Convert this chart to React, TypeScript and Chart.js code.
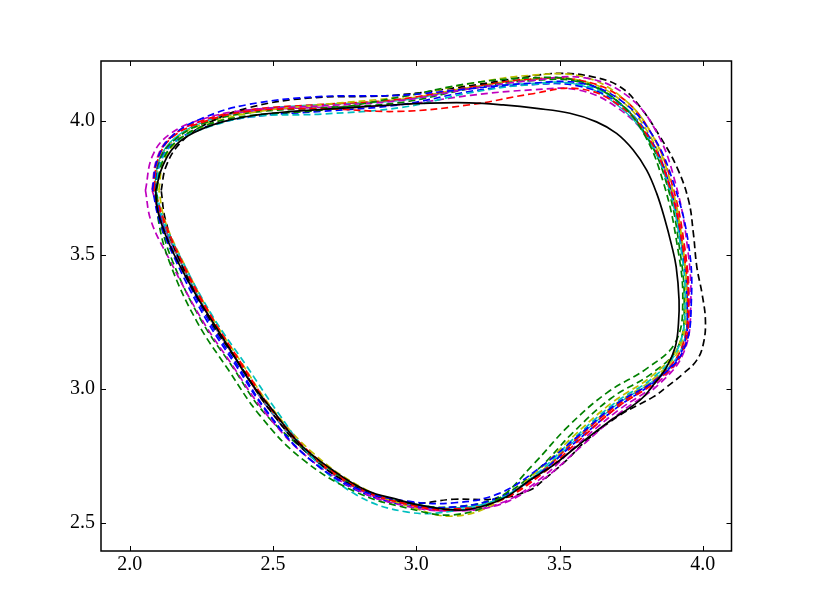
import React, { useEffect, useRef } from "react";
import { Chart, registerables } from "chart.js";

Chart.register(...registerables);

const X_TICKS = [2.0, 2.5, 3.0, 3.5, 4.0];
const Y_TICKS = [2.5, 3.0, 3.5, 4.0];
const X_LIMITS = [1.9, 4.1];
const Y_LIMITS = [2.395, 4.223];

const solidBlack = [
  [2.091, 3.741], [2.114, 3.828], [2.161, 3.909], [2.231, 3.959], [2.324, 3.996], [2.441, 4.021],
  [2.557, 4.034], [2.732, 4.046], [2.9, 4.058], [3.05, 4.066], [3.186, 4.067], [3.303, 4.059],
  [3.42, 4.046], [3.536, 4.028], [3.629, 3.996], [3.699, 3.953], [3.757, 3.891], [3.804, 3.816],
  [3.839, 3.729], [3.868, 3.63], [3.89, 3.54], [3.907, 3.455], [3.917, 3.331], [3.915, 3.244],
  [3.904, 3.157], [3.874, 3.082], [3.827, 3.014], [3.781, 2.958], [3.664, 2.871], [3.559, 2.784],
  [3.478, 2.715], [3.396, 2.659], [3.315, 2.597], [3.245, 2.566], [3.151, 2.547], [3.012, 2.566],
  [2.942, 2.585], [2.825, 2.622], [2.708, 2.697], [2.592, 2.796], [2.499, 2.92], [2.417, 3.032],
  [2.359, 3.132], [2.301, 3.231], [2.242, 3.331], [2.196, 3.418], [2.137, 3.543], [2.097, 3.667],
];

const blue1 = [
  [2.08, 3.745], [2.098, 3.86], [2.15, 3.945], [2.255, 4.01], [2.41, 4.06], [2.66, 4.09], [2.94, 4.095],
  [3.19, 4.12], [3.4, 4.14], [3.575, 4.14], [3.715, 4.075], [3.825, 3.945], [3.9, 3.76], [3.95, 3.54],
  [3.96, 3.33], [3.935, 3.15], [3.845, 3.04], [3.7, 2.945], [3.56, 2.82], [3.43, 2.705], [3.29, 2.61],
  [3.134, 2.575], [2.977, 2.58], [2.8, 2.625], [2.62, 2.745], [2.478, 2.915], [2.372, 3.085],
  [2.265, 3.262], [2.16, 3.48], [2.103, 3.63],
];
const blue2 = [
  [2.09, 3.74], [2.108, 3.85], [2.162, 3.925], [2.268, 3.978], [2.425, 4.015], [2.668, 4.035], [2.945, 4.06],
  [3.19, 4.11], [3.4, 4.135], [3.565, 4.13], [3.7, 4.07], [3.81, 3.945], [3.885, 3.755], [3.925, 3.53],
  [3.945, 3.33], [3.93, 3.15], [3.84, 3.035], [3.7, 2.93], [3.56, 2.805], [3.436, 2.69], [3.3, 2.6],
  [3.14, 2.56], [2.975, 2.565], [2.795, 2.62], [2.615, 2.75], [2.48, 2.915], [2.378, 3.085],
  [2.272, 3.262], [2.168, 3.478], [2.11, 3.628],
];
const green1 = [
  [2.095, 3.745], [2.115, 3.85], [2.165, 3.925], [2.27, 3.985], [2.425, 4.02], [2.67, 4.04], [2.95, 4.09],
  [3.19, 4.14], [3.4, 4.16], [3.56, 4.15], [3.695, 4.08], [3.795, 3.95], [3.865, 3.76], [3.91, 3.54],
  [3.93, 3.33], [3.905, 3.175], [3.81, 3.08], [3.665, 2.985], [3.53, 2.86], [3.41, 2.72], [3.28, 2.585],
  [3.13, 2.53], [2.97, 2.555], [2.79, 2.615], [2.6, 2.74], [2.455, 2.9], [2.345, 3.07], [2.235, 3.25],
  [2.14, 3.47], [2.1, 3.63],
];
const green2 = [
  [2.088, 3.738], [2.105, 3.855], [2.158, 3.93], [2.262, 3.992], [2.42, 4.03], [2.664, 4.048], [2.944, 4.068],
  [3.19, 4.12], [3.4, 4.15], [3.568, 4.145], [3.705, 4.07], [3.808, 3.935], [3.878, 3.75], [3.918, 3.53],
  [3.935, 3.33], [3.915, 3.16], [3.825, 3.06], [3.68, 2.965], [3.545, 2.835], [3.425, 2.7], [3.295, 2.6],
  [3.14, 2.56], [2.98, 2.572], [2.808, 2.628], [2.632, 2.755], [2.47, 2.91], [2.36, 3.08], [2.25, 3.255],
  [2.15, 3.475], [2.105, 3.63],
];
const red1 = [
  [2.085, 3.75], [2.1, 3.86], [2.15, 3.94], [2.255, 3.995], [2.412, 4.035], [2.66, 4.045], [2.94, 4.035],
  [3.19, 4.06], [3.4, 4.1], [3.565, 4.12], [3.705, 4.06], [3.812, 3.935], [3.885, 3.75], [3.93, 3.53],
  [3.95, 3.32], [3.93, 3.14], [3.84, 3.03], [3.7, 2.93], [3.56, 2.8], [3.436, 2.68], [3.295, 2.585],
  [3.136, 2.548], [2.975, 2.568], [2.805, 2.63], [2.632, 2.76], [2.495, 2.925], [2.39, 3.095],
  [2.285, 3.27], [2.178, 3.485], [2.118, 3.635],
];
const red2 = [
  [2.082, 3.742], [2.098, 3.858], [2.148, 3.942], [2.252, 4.0], [2.41, 4.04], [2.655, 4.06], [2.938, 4.08],
  [3.185, 4.125], [3.395, 4.155], [3.575, 4.15], [3.718, 4.085], [3.822, 3.95], [3.892, 3.765], [3.935, 3.54],
  [3.948, 3.335], [3.925, 3.15], [3.835, 3.035], [3.692, 2.932], [3.552, 2.805], [3.428, 2.68], [3.288, 2.582],
  [3.13, 2.552], [2.972, 2.57], [2.8, 2.628], [2.628, 2.755], [2.492, 2.925], [2.388, 3.092],
  [2.282, 3.268], [2.176, 3.482], [2.116, 3.632],
];
const cyan1 = [
  [2.092, 3.74], [2.11, 3.85], [2.165, 3.925], [2.27, 3.975], [2.425, 4.015], [2.67, 4.025], [2.95, 4.05],
  [3.19, 4.105], [3.4, 4.135], [3.57, 4.135], [3.705, 4.07], [3.808, 3.94], [3.88, 3.755], [3.922, 3.535],
  [3.938, 3.33], [3.915, 3.155], [3.83, 3.045], [3.69, 2.945], [3.55, 2.815], [3.428, 2.69], [3.288, 2.588],
  [3.13, 2.545], [2.97, 2.54], [2.79, 2.605], [2.64, 2.74], [2.515, 2.915], [2.405, 3.09], [2.29, 3.27],
  [2.18, 3.485], [2.118, 3.632],
];
const cyan2 = [
  [2.086, 3.745], [2.104, 3.858], [2.156, 3.935], [2.258, 3.995], [2.415, 4.04], [2.66, 4.06], [2.942, 4.075],
  [3.188, 4.12], [3.398, 4.14], [3.565, 4.135], [3.7, 4.06], [3.805, 3.935], [3.88, 3.755], [3.925, 3.535],
  [3.945, 3.33], [3.925, 3.15], [3.838, 3.04], [3.698, 2.94], [3.556, 2.81], [3.434, 2.688], [3.294, 2.592],
  [3.136, 2.556], [2.978, 2.575], [2.805, 2.625], [2.63, 2.75], [2.49, 2.92], [2.385, 3.09], [2.28, 3.265],
  [2.174, 3.482], [2.114, 3.63],
];
const magenta1 = [
  [2.055, 3.74], [2.08, 3.87], [2.14, 3.95], [2.25, 4.005], [2.41, 4.04], [2.66, 4.055], [2.94, 4.075],
  [3.19, 4.12], [3.4, 4.15], [3.59, 4.16], [3.74, 4.09], [3.84, 3.955], [3.905, 3.765], [3.945, 3.54],
  [3.958, 3.32], [3.935, 3.14], [3.85, 3.02], [3.71, 2.91], [3.57, 2.78], [3.44, 2.66], [3.295, 2.57],
  [3.134, 2.545], [2.975, 2.56], [2.8, 2.62], [2.615, 2.75], [2.47, 2.915], [2.36, 3.085], [2.25, 3.262],
  [2.14, 3.48], [2.075, 3.625],
];
const magenta2 = [
  [2.078, 3.742], [2.096, 3.862], [2.148, 3.944], [2.255, 4.0], [2.414, 4.035], [2.662, 4.05], [2.945, 4.06],
  [3.19, 4.095], [3.4, 4.115], [3.565, 4.115], [3.7, 4.05], [3.812, 3.93], [3.888, 3.75], [3.935, 3.53],
  [3.952, 3.325], [3.932, 3.145], [3.845, 3.025], [3.705, 2.92], [3.565, 2.795], [3.44, 2.67], [3.298, 2.575],
  [3.14, 2.545], [2.982, 2.562], [2.808, 2.62], [2.63, 2.75], [2.49, 2.918], [2.385, 3.088], [2.28, 3.265],
  [2.174, 3.482], [2.112, 3.628],
];
const yellow1 = [
  [2.102, 3.74], [2.118, 3.845], [2.168, 3.925], [2.272, 3.985], [2.425, 4.03], [2.668, 4.06], [2.95, 4.09],
  [3.195, 4.14], [3.405, 4.17], [3.58, 4.165], [3.72, 4.085], [3.822, 3.95], [3.89, 3.76], [3.93, 3.535],
  [3.94, 3.33], [3.915, 3.16], [3.825, 3.05], [3.685, 2.95], [3.545, 2.82], [3.42, 2.69], [3.28, 2.575],
  [3.13, 2.525], [2.98, 2.56], [2.805, 2.635], [2.635, 2.765], [2.495, 2.93], [2.39, 3.098], [2.285, 3.272],
  [2.18, 3.488], [2.122, 3.632],
];
const yellow2 = [
  [2.09, 3.748], [2.106, 3.856], [2.158, 3.932], [2.262, 3.99], [2.42, 4.035], [2.665, 4.058], [2.946, 4.08],
  [3.19, 4.125], [3.4, 4.155], [3.575, 4.15], [3.712, 4.078], [3.815, 3.945], [3.885, 3.758], [3.928, 3.535],
  [3.942, 3.33], [3.92, 3.155], [3.832, 3.042], [3.692, 2.94], [3.552, 2.81], [3.43, 2.688], [3.292, 2.59],
  [3.134, 2.552], [2.976, 2.568], [2.802, 2.63], [2.628, 2.756], [2.488, 2.922], [2.384, 3.09], [2.278, 3.265],
  [2.172, 3.48], [2.114, 3.63],
];
const blackDashed = [
  [2.11, 3.74], [2.127, 3.83], [2.175, 3.915], [2.262, 3.985], [2.42, 4.05], [2.63, 4.085], [2.92, 4.095],
  [3.18, 4.13], [3.39, 4.165], [3.501, 4.177], [3.616, 4.164], [3.711, 4.127], [3.781, 4.052], [3.851, 3.94],
  [3.909, 3.828], [3.95, 3.704], [3.967, 3.58], [3.979, 3.455], [3.997, 3.356], [4.009, 3.256], [4.002, 3.169],
  [3.979, 3.107], [3.932, 3.057], [3.874, 3.007], [3.827, 2.97], [3.711, 2.902], [3.595, 2.809], [3.525, 2.734],
  [3.455, 2.67], [3.396, 2.622], [3.28, 2.59], [3.13, 2.588], [2.975, 2.575], [2.8, 2.628], [2.628, 2.752],
  [2.49, 2.92], [2.385, 3.088], [2.278, 3.262], [2.175, 3.478], [2.125, 3.63],
];

const SERIES = [
  { name: "reference", points: solidBlack, color: "#000000", dashed: false, width: 1.7 },
  { name: "b1", points: blue1, color: "#0000ff", dashed: true, width: 1.7 },
  { name: "g1", points: green1, color: "#008000", dashed: true, width: 1.7 },
  { name: "r1", points: red1, color: "#ff0000", dashed: true, width: 1.7 },
  { name: "c1", points: cyan1, color: "#00bfbf", dashed: true, width: 1.7 },
  { name: "m1", points: magenta1, color: "#bf00bf", dashed: true, width: 1.7 },
  { name: "y1", points: yellow1, color: "#bfbf00", dashed: true, width: 1.7 },
  { name: "k1", points: blackDashed, color: "#000000", dashed: true, width: 1.7 },
  { name: "b2", points: blue2, color: "#0000ff", dashed: true, width: 1.7 },
  { name: "g2", points: green2, color: "#008000", dashed: true, width: 1.7 },
  { name: "r2", points: red2, color: "#ff0000", dashed: true, width: 1.7 },
  { name: "c2", points: cyan2, color: "#00bfbf", dashed: false, width: 1.2 },
  { name: "m2", points: magenta2, color: "#bf00bf", dashed: true, width: 1.7 },
  { name: "y2", points: yellow2, color: "#bfbf00", dashed: true, width: 1.7 },
];

const FONT = { family: "'Liberation Serif', 'DejaVu Serif', serif", size: 20 };

const frameAndTicks = {
  id: "frameAndTicks",
  afterDraw(chart: any) {
    const { ctx, chartArea, scales } = chart;
    const { left, right, top, bottom } = chartArea;
    const tl = 5;
    ctx.save();
    ctx.strokeStyle = "#000";
    ctx.lineWidth = 1;
    ctx.beginPath();
    for (const v of X_TICKS) {
      const px = Math.round(scales.x.getPixelForValue(v)) + 0.5;
      ctx.moveTo(px, bottom);
      ctx.lineTo(px, bottom - tl);
      ctx.moveTo(px, top);
      ctx.lineTo(px, top + tl);
    }
    for (const v of Y_TICKS) {
      const py = Math.round(scales.y.getPixelForValue(v)) + 0.5;
      ctx.moveTo(left, py);
      ctx.lineTo(left + tl, py);
      ctx.moveTo(right, py);
      ctx.lineTo(right - tl, py);
    }
    ctx.stroke();
    ctx.lineWidth = 1.5;
    ctx.strokeRect(left, top, right - left, bottom - top);
    ctx.restore();
  },
};

export default function App() {
  const ref = useRef<HTMLCanvasElement | null>(null);
  useEffect(() => {
    document.body.style.margin = "0";
    const canvas = ref.current;
    if (!canvas) return;
    const datasets = SERIES.map((s) => ({
      label: s.name,
      data: [...s.points, s.points[0]].map(([x, y]) => ({ x, y })),
      showLine: true,
      borderColor: s.color,
      backgroundColor: s.color,
      borderWidth: s.width,
      borderDash: s.dashed ? [7, 4] : [],
      pointRadius: 0,
      pointHoverRadius: 0,
      tension: 0.4,
      fill: false,
    }));
    const chart = new Chart(canvas, {
      type: "scatter",
      data: { datasets },
      options: {
        animation: false,
        responsive: false,
        maintainAspectRatio: false,
        events: [],
        layout: { padding: { top: 61, right: 81.5, left: 0, bottom: 0 } },
        plugins: { legend: { display: false }, tooltip: { enabled: false } },
        scales: {
          x: {
            type: "linear",
            min: X_LIMITS[0],
            max: X_LIMITS[1],
            grid: { display: false, drawTicks: false },
            border: { display: false },
            afterBuildTicks: (scale: any) => {
              scale.ticks = X_TICKS.map((v) => ({ value: v }));
            },
            afterFit: (scale: any) => {
              scale.height = 62;
            },
            ticks: {
              color: "#000",
              font: FONT,
              padding: 2,
              maxRotation: 0,
              autoSkip: false,
              callback: (v: any) => Number(v).toFixed(1),
            },
          },
          y: {
            type: "linear",
            min: Y_LIMITS[0],
            max: Y_LIMITS[1],
            grid: { display: false, drawTicks: false },
            border: { display: false },
            afterBuildTicks: (scale: any) => {
              scale.ticks = Y_TICKS.map((v) => ({ value: v }));
            },
            afterFit: (scale: any) => {
              scale.width = 101;
            },
            ticks: {
              color: "#000",
              font: FONT,
              padding: 6,
              autoSkip: false,
              callback: (v: any) => Number(v).toFixed(1),
            },
          },
        },
      },
      plugins: [frameAndTicks],
    });
    return () => chart.destroy();
  }, []);
  return (
    <div style={{ width: 813, height: 613, background: "#fff" }}>
      <canvas ref={ref} width={813} height={613} style={{ display: "block" }} />
    </div>
  );
}
